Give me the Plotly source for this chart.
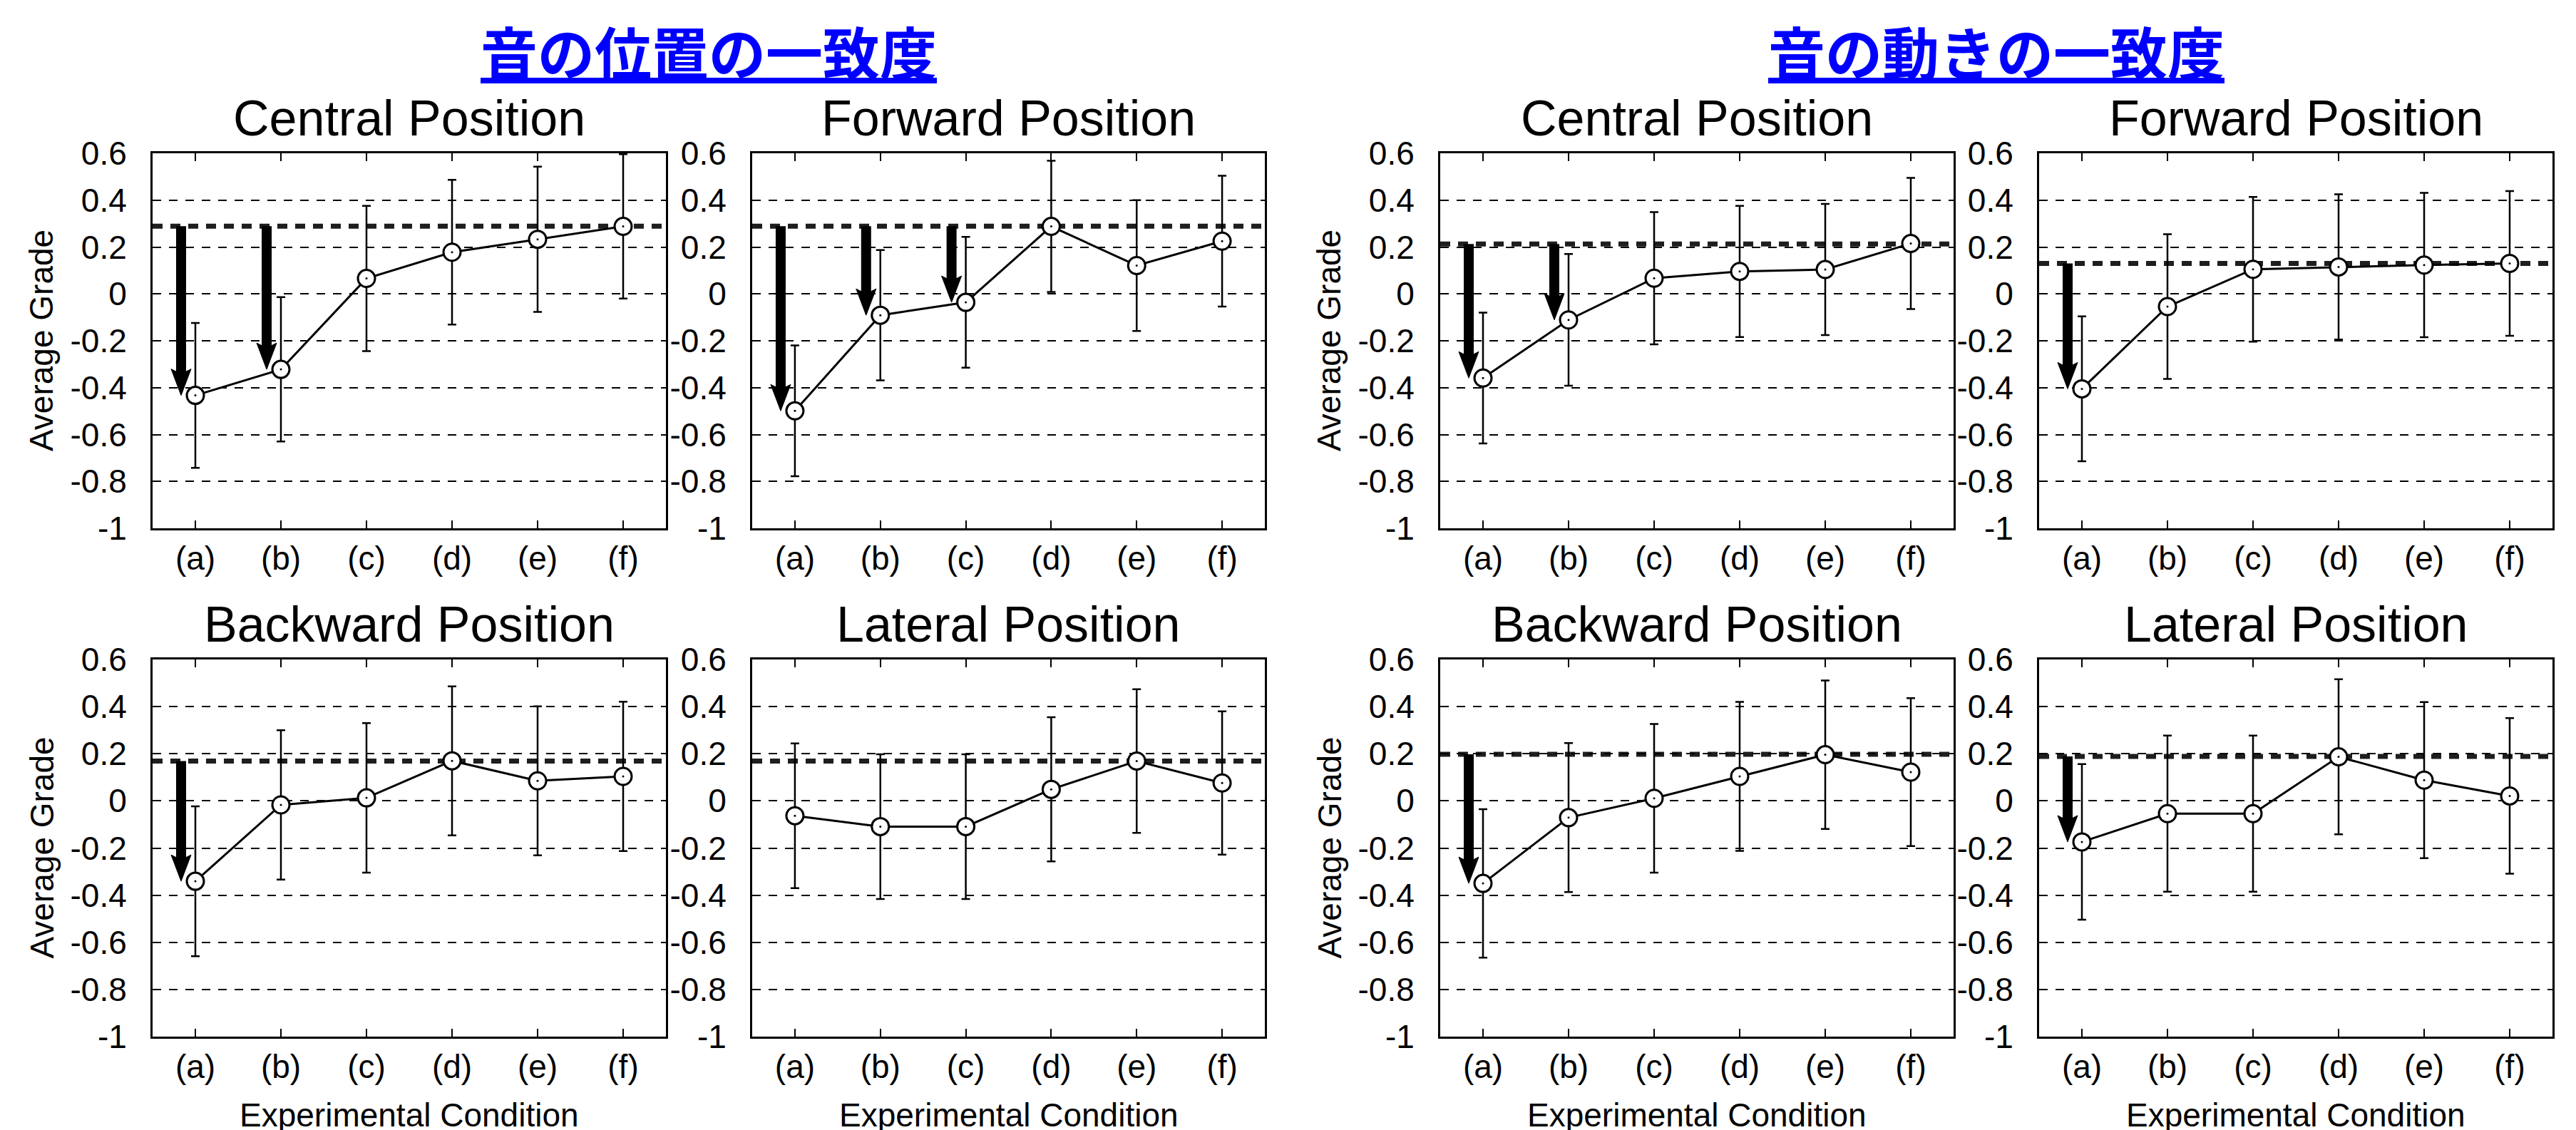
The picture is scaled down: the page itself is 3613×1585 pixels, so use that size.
import plotly.graph_objects as go

# ---------------- data ----------------
categories = ["(a)", "(b)", "(c)", "(d)", "(e)", "(f)"]
y_tick_values = [-1, -0.8, -0.6, -0.4, -0.2, 0, 0.2, 0.4, 0.6]
y_tick_labels = ["-1", "-0.8", "-0.6", "-0.4", "-0.2", "0", "0.2", "0.4", "0.6"]

group_titles = ["音の位置の一致度", "音の動きの一致度"]
panel_titles = ["Central Position", "Forward Position", "Backward Position", "Lateral Position"]
x_axis_title = "Experimental Condition"
y_axis_title = "Average Grade"

# 音の位置の一致度 (sound position agreement)
pos_central_mean = [-0.433, -0.322, 0.066, 0.178, 0.233, 0.288]
pos_central_sd = [0.309, 0.308, 0.310, 0.309, 0.310, 0.308]
pos_central_ref = 0.289
pos_central_arrows = ["(a)", "(b)"]

pos_forward_mean = [-0.499, -0.091, -0.036, 0.288, 0.121, 0.225]
pos_forward_sd = [0.279, 0.278, 0.279, 0.280, 0.279, 0.279]
pos_forward_ref = 0.289
pos_forward_arrows = ["(a)", "(b)", "(c)"]

pos_backward_mean = [-0.341, -0.017, 0.013, 0.170, 0.085, 0.104]
pos_backward_sd = [0.318, 0.317, 0.317, 0.316, 0.316, 0.317]
pos_backward_ref = 0.169
pos_backward_arrows = ["(a)"]

pos_lateral_mean = [-0.063, -0.109, -0.109, 0.049, 0.169, 0.076]
pos_lateral_sd = [0.307, 0.307, 0.307, 0.306, 0.305, 0.304]
pos_lateral_ref = 0.169
pos_lateral_arrows = []

# 音の動きの一致度 (sound movement agreement)
mov_central_mean = [-0.359, -0.111, 0.067, 0.096, 0.104, 0.215]
mov_central_sd = [0.279, 0.281, 0.282, 0.280, 0.280, 0.280]
mov_central_ref = 0.213
mov_central_arrows = ["(a)", "(b)"]

mov_forward_mean = [-0.405, -0.054, 0.105, 0.115, 0.123, 0.130]
mov_forward_sd = [0.309, 0.309, 0.309, 0.310, 0.308, 0.309]
mov_forward_ref = 0.130
mov_forward_arrows = ["(a)"]

mov_backward_mean = [-0.350, -0.071, 0.011, 0.104, 0.196, 0.122]
mov_backward_sd = [0.315, 0.316, 0.315, 0.316, 0.315, 0.314]
mov_backward_ref = 0.198
mov_backward_arrows = ["(a)"]

mov_lateral_mean = [-0.174, -0.054, -0.054, 0.187, 0.088, 0.021]
mov_lateral_sd = [0.330, 0.331, 0.331, 0.329, 0.331, 0.330]
mov_lateral_ref = 0.189
mov_lateral_arrows = ["(a)"]

# ---------------- layout geometry (pixels) ----------------
W, H = 3613, 1585
col_px = [(206, 926), (1047, 1766), (2012, 2732), (2852, 3572)]
row_px = [(207, 733), (917, 1446)]

panels = [
    # (title, mean, sd, ref, arrows, col, row)
    (panel_titles[0], pos_central_mean, pos_central_sd, pos_central_ref, pos_central_arrows, 0, 0),
    (panel_titles[1], pos_forward_mean, pos_forward_sd, pos_forward_ref, pos_forward_arrows, 1, 0),
    (panel_titles[0], mov_central_mean, mov_central_sd, mov_central_ref, mov_central_arrows, 2, 0),
    (panel_titles[1], mov_forward_mean, mov_forward_sd, mov_forward_ref, mov_forward_arrows, 3, 0),
    (panel_titles[2], pos_backward_mean, pos_backward_sd, pos_backward_ref, pos_backward_arrows, 0, 1),
    (panel_titles[3], pos_lateral_mean, pos_lateral_sd, pos_lateral_ref, pos_lateral_arrows, 1, 1),
    (panel_titles[2], mov_backward_mean, mov_backward_sd, mov_backward_ref, mov_backward_arrows, 2, 1),
    (panel_titles[3], mov_lateral_mean, mov_lateral_sd, mov_lateral_ref, mov_lateral_arrows, 3, 1),
]


def px_x(p):
    return p / W


def px_y(p):
    return 1 - p / H


FONT = "Liberation Sans, Arial, Helvetica, sans-serif"
BLACK = "#000000"

fig = go.Figure()
layout = dict(
    width=W, height=H,
    margin=dict(l=0, r=0, t=0, b=0, pad=0, autoexpand=False),
    paper_bgcolor="white", plot_bgcolor="white",
    showlegend=False,
    font=dict(family=FONT, color=BLACK),
)
shapes = []
annotations = []

x_pos = list(range(len(categories)))
y_min, y_max = y_tick_values[0], y_tick_values[-1]

for k, (title, mean, sd, ref, arrows, col, row) in enumerate(panels):
    n = k + 1
    xa = "x" if n == 1 else f"x{n}"
    ya = "y" if n == 1 else f"y{n}"
    xname = "xaxis" if n == 1 else f"xaxis{n}"
    yname = "yaxis" if n == 1 else f"yaxis{n}"
    x0p, x1p = col_px[col]
    y0p, y1p = row_px[row]

    layout[xname] = dict(
        domain=[px_x(x0p), px_x(x1p)], anchor=ya, automargin=False,
        range=[-0.5, len(categories) - 0.5],
        tickvals=x_pos, ticktext=categories,
        ticks="inside", ticklen=11, tickwidth=2, tickcolor=BLACK,
        showline=True, linewidth=3, linecolor=BLACK, mirror="ticks",
        showgrid=False, zeroline=False,
        tickfont=dict(size=46, family=FONT, color=BLACK),
        ticklabelstandoff=0,
    )
    layout[yname] = dict(
        domain=[px_y(y1p), px_y(y0p)], anchor=xa, automargin=False,
        range=[y_min, y_max],
        tickvals=y_tick_values, ticktext=y_tick_labels,
        ticks="", showline=True, linewidth=3, linecolor=BLACK, mirror=True,
        showgrid=True, gridcolor=BLACK, gridwidth=2, griddash="12px,11px",
        zeroline=False,
        tickfont=dict(size=46, family=FONT, color=BLACK),
        ticklabelstandoff=24,
    )

    # reference (best) level: thick dashed line
    shapes.append(dict(
        type="line", xref=xa, yref=ya, x0=-0.5, x1=len(categories) - 0.5, y0=ref, y1=ref,
        line=dict(color="#1e1e1e", width=7, dash="14px,11px"), layer="below",
    ))

    # arrows from reference level down to the degraded condition
    plot_h = y1p - y0p
    px_per_unit = plot_h / (y_max - y_min)
    head_len_px, head_half_w = 37, 14
    head_len = head_len_px / px_per_unit
    for cat in arrows:
        i = categories.index(cat)
        xa_pos = i - 1 / 6
        m = mean[i]
        shapes.append(dict(
            type="line", xref=xa, yref=ya, x0=xa_pos, x1=xa_pos,
            y0=ref, y1=m + head_len * 0.8,
            line=dict(color=BLACK, width=14), layer="above",
        ))
        shapes.append(dict(
            type="path", xref=xa, yref=ya,
            xsizemode="pixel", ysizemode="pixel", xanchor=xa_pos, yanchor=m,
            path=f"M{-head_half_w},{head_len_px} L0,0 L{head_half_w},{head_len_px} L0,{head_len_px - 7} Z",
            fillcolor=BLACK, line=dict(color=BLACK, width=1), layer="above",
        ))

    fig.add_trace(go.Scatter(
        x=x_pos, y=mean, xaxis=xa, yaxis=ya,
        mode="lines+markers",
        line=dict(color=BLACK, width=3),
        marker=dict(symbol="circle", size=24, color="white", line=dict(color=BLACK, width=3)),
        error_y=dict(type="data", array=sd, visible=True, color=BLACK, thickness=2.5, width=6),
        hoverinfo="skip",
    ))
    fig.add_trace(go.Scatter(
        x=x_pos, y=mean, xaxis=xa, yaxis=ya, mode="markers",
        marker=dict(symbol="circle", size=3, color=BLACK), hoverinfo="skip",
    ))

    # panel title
    annotations.append(dict(
        text=title, xref="paper", yref="paper",
        x=px_x((x0p + x1p) / 2), y=px_y(y0p), xanchor="center", yanchor="bottom",
        yshift=8, showarrow=False, font=dict(size=70, family=FONT, color=BLACK),
    ))
    # y axis title on the left panel of each group
    if col in (0, 2):
        annotations.append(dict(
            text=y_axis_title, xref="paper", yref="paper",
            x=px_x(x0p - 156), y=px_y((y0p + y1p) / 2), xanchor="center", yanchor="middle",
            textangle=-90, showarrow=False, font=dict(size=46, family=FONT, color=BLACK),
        ))
    # x axis title on the bottom row
    if row == 1:
        annotations.append(dict(
            text=x_axis_title, xref="paper", yref="paper",
            x=px_x((x0p + x1p) / 2), y=px_y(1556), xanchor="center", yanchor="middle",
            showarrow=False, font=dict(size=46, family=FONT, color=BLACK),
        ))

# group titles (blue, underlined)
for g, title in enumerate(group_titles):
    left = col_px[2 * g][0]
    right = col_px[2 * g + 1][1]
    annotations.append(dict(
        text=f"<b>{title}</b>", xref="paper", yref="paper",
        x=px_x((left + right) / 2), y=px_y(62), xanchor="center", yanchor="middle",
        showarrow=False,
        font=dict(size=80, family="Noto Sans CJK JP", color="#0000ff", lineposition="under"),
    ))

layout["shapes"] = shapes
layout["annotations"] = annotations
fig.update_layout(**layout)
fig.write_html("out.html")
